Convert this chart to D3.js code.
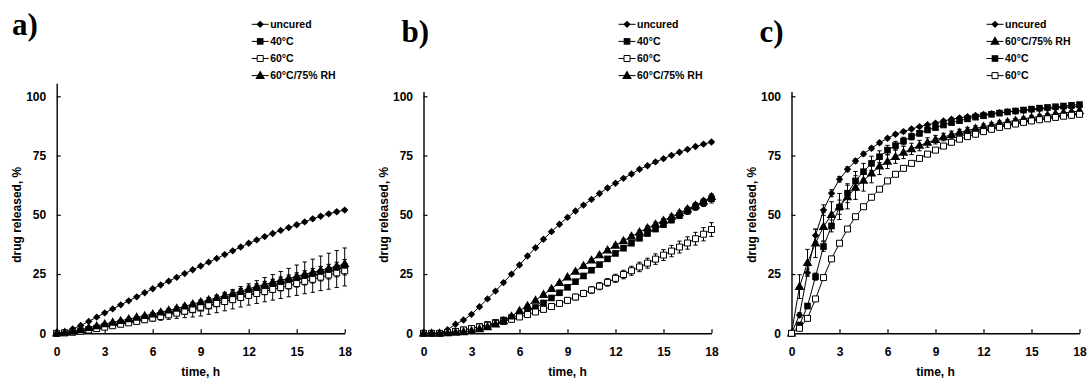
<!DOCTYPE html>
<html><head><meta charset="utf-8">
<script src="https://cdn.jsdelivr.net/npm/d3@7"></script>
<style>body{margin:0;background:#fff}svg{display:block}</style>
</head><body><svg id="c" width="1088" height="380"></svg>
<script>
// ---- data ----
const times = [0,0.5,1,1.5,2,2.5,3,3.5,4,4.5,5,5.5,6,6.5,7,7.5,8,8.5,9,9.5,10,10.5,11,11.5,12,12.5,13,13.5,14,14.5,15,15.5,16,16.5,17,17.5,18];
const xTicks = [0,3,6,9,12,15,18];
const yTicks = [0,25,50,75,100];
const panelLabels = ["a)","b)","c)"];
const xTitle = "time, h";
const yTitle = "drug released, %";

// panel a
const aUncured = [0,0.6,1.8,3.3,5.0,6.8,8.6,10.3,12.0,13.7,15.4,17.1,18.8,20.4,22.0,23.6,25.2,26.8,28.4,30.0,31.6,33.2,34.8,36.4,38.0,39.4,40.8,42.1,43.4,44.6,45.8,47.0,48.3,49.4,50.4,51.3,52.0];
const aUncuredSd = [0,0,0.1,0.1,0.1,0.1,0.2,0.2,0.2,0.2,0.2,0.3,0.3,0.3,0.3,0.3,0.3,0.4,0.4,0.4,0.4,0.4,0.4,0.5,0.5,0.5,0.5,0.5,0.5,0.5,0.6,0.6,0.6,0.6,0.6,0.6,0.6];
const a40 = [0,0.2,0.5,1.0,1.6,2.2,2.9,3.5,4.2,4.8,5.5,6.2,6.9,7.5,8.1,8.7,9.3,9.9,10.6,11.5,12.4,13.4,14.4,15.4,16.4,17.4,18.4,19.4,20.4,21.4,22.4,23.4,24.3,25.3,26.2,27.1,28.0];
const a40Sd = [0,0.1,0.2,0.3,0.4,0.5,0.7,0.8,1.0,1.2,1.4,1.6,1.8,2.0,2.2,2.4,2.7,3.0,3.3,3.5,3.7,3.9,4.1,4.3,4.5,4.8,5.1,5.4,5.7,6.0,6.4,6.7,7.0,7.3,7.6,7.8,8.0];
const a60 = [0,0.2,0.5,0.9,1.4,2.0,2.6,3.2,3.8,4.4,5.0,5.7,6.4,7.1,7.8,8.5,9.3,10.1,11.0,11.8,12.6,13.4,14.2,15.1,16.0,16.8,17.6,18.5,19.3,20.1,21.0,21.9,22.8,23.7,24.6,25.5,26.4];
const a60Sd = [0,0,0.1,0.1,0.2,0.2,0.3,0.3,0.4,0.4,0.5,0.5,0.6,0.6,0.7,0.7,0.8,0.8,0.9,0.9,1.0,1.0,1.1,1.1,1.2,1.2,1.3,1.3,1.4,1.4,1.5,1.5,1.6,1.6,1.7,1.7,1.8];
const aRH = [0,0.3,0.8,1.5,2.3,3.1,3.9,4.6,5.3,6.0,6.7,7.4,8.1,8.9,9.7,10.5,11.4,12.3,13.2,14.1,15.0,15.9,16.8,17.8,18.8,19.7,20.6,21.5,22.4,23.2,24.0,24.9,25.7,26.6,27.4,28.3,29.3];
const aRHSd = [0,0,0.1,0.1,0.2,0.2,0.3,0.3,0.4,0.4,0.5,0.5,0.6,0.6,0.7,0.7,0.8,0.8,0.9,0.9,1.0,1.0,1.1,1.1,1.2,1.2,1.3,1.3,1.4,1.4,1.5,1.5,1.6,1.6,1.7,1.7,1.8];

// panel b
const bUncured = [0,0,0,1.5,3.8,5.6,8.0,11.2,14.5,17.8,21.4,25.0,28.8,32.6,36.1,39.7,42.9,46.0,48.9,51.6,54.1,56.5,59.0,61.3,63.3,65.4,67.2,69.2,70.7,72.3,73.7,75.1,76.4,77.6,78.8,79.8,80.7];
const bUncuredSd = [0,0,0,0.2,0.3,0.3,0.4,0.4,0.4,0.5,0.5,0.5,0.5,0.5,0.5,0.5,0.5,0.5,0.5,0.5,0.5,0.5,0.5,0.5,0.5,0.5,0.5,0.5,0.5,0.5,0.5,0.5,0.5,0.5,0.5,0.5,0.5];
const b40 = [0,0,0,0.3,0.8,1.4,2.1,2.9,3.7,4.6,5.6,6.6,7.8,9.2,10.9,12.8,14.9,17.1,19.4,21.8,24.2,26.6,29.0,31.4,33.7,35.9,38.0,40.1,42.1,44.0,45.9,47.8,49.7,51.6,53.4,55.1,56.8];
const b40Sd = [0,0,0,0.1,0.1,0.2,0.2,0.2,0.3,0.3,0.3,0.4,0.4,0.4,0.5,0.5,0.5,0.6,0.6,0.6,0.7,0.7,0.7,0.8,0.8,0.9,0.9,1.0,1.0,1.1,1.1,1.2,1.3,1.4,1.5,1.6,1.8];
const b60 = [0,0,0,0.3,0.8,1.4,2.0,2.7,3.4,4.2,5.0,5.9,6.9,7.9,9.0,10.1,11.3,12.6,13.9,15.3,16.8,18.3,19.9,21.5,23.2,24.8,26.4,28.0,29.6,31.3,33.0,34.7,36.4,38.1,39.9,41.8,43.8];
const b60Sd = [0,0,0,0.1,0.2,0.3,0.4,0.4,0.5,0.5,0.6,0.6,0.7,0.7,0.8,0.8,0.9,1.0,1.1,1.2,1.3,1.4,1.5,1.6,1.7,1.8,1.9,2.0,2.1,2.2,2.3,2.4,2.5,2.6,2.7,2.8,2.9];
const bRH = [0,0,0,0.1,0.3,0.6,1.1,1.8,2.7,3.8,5.2,7.2,9.5,11.6,13.9,16.3,18.8,21.3,23.7,26.1,28.5,30.8,33.0,35.1,37.1,39.0,40.9,42.7,44.4,46.0,47.6,49.2,50.8,52.4,54.0,55.7,57.6];
const bRHSd = [0,0,0,0,0.1,0.1,0.1,0.2,0.2,0.2,0.3,0.3,0.3,0.4,0.4,0.4,0.5,0.5,0.5,0.6,0.6,0.6,0.7,0.7,0.7,0.8,0.8,0.8,0.9,0.9,0.9,1.0,1.0,1.0,1.1,1.1,1.2];

// panel c
const cUncured = [0,7.7,25.6,41.3,52.0,59.1,65.0,69.2,72.7,75.7,78.1,80.4,82.3,84.0,85.1,86.2,87.2,88.0,88.7,89.6,90.3,90.9,91.4,91.9,92.3,92.7,93.1,93.4,93.7,94.0,94.3,94.6,94.8,95.1,95.3,95.5,95.7];
const cUncuredSd = [0,1.0,1.5,2.6,2.2,1.5,1.2,1.0,0.9,0.8,0.7,0.7,0.6,0.6,0.6,0.5,0.5,0.5,0.5,0.5,0.5,0.5,0.5,0.5,0.5,0.5,0.5,0.5,0.5,0.5,0.5,0.5,0.5,0.5,0.5,0.5,0.5];
const cRH = [0,19.7,29.8,38.0,45.0,50.0,53.5,57.5,61.5,64.5,67.5,70.5,72.5,74.5,76.3,77.8,79.2,80.5,81.7,82.8,83.8,84.7,85.6,86.4,87.2,87.9,88.6,89.2,89.8,90.4,91.0,91.5,92.0,92.5,93.0,93.4,93.8];
const cRHSd = [0,5.0,5.6,6.0,6.0,5.5,5.5,5.0,5.0,4.5,4.0,3.5,3.0,2.8,2.6,2.4,2.2,2.0,1.8,1.6,1.5,1.4,1.3,1.2,1.1,1.0,1.0,0.9,0.9,0.8,0.8,0.8,0.7,0.7,0.7,0.6,0.6];
const c40 = [0,3.5,11.5,23.9,36.6,45.3,53.2,59.1,64.3,68.2,71.7,74.5,77.3,79.2,81.1,83.0,84.4,85.8,86.8,87.9,88.9,89.7,90.5,91.2,91.8,92.4,92.9,93.4,93.8,94.2,94.6,95.0,95.3,95.6,95.9,96.2,96.5];
const c40Sd = [0,0.5,1.0,1.5,2.0,2.5,3.0,4.0,4.0,3.5,3.0,2.5,2.0,1.8,1.6,1.4,1.2,1.0,1.0,0.9,0.9,0.8,0.8,0.8,0.7,0.7,0.7,0.6,0.6,0.6,0.6,0.5,0.5,0.5,0.5,0.5,0.5];
const c60 = [0,2.1,6.3,14.5,23.5,31.4,38.0,44.0,49.2,53.4,57.4,60.8,64.3,67.1,69.6,71.7,73.8,75.6,77.3,79.0,80.6,81.9,83.0,84.0,85.1,86.1,86.9,87.6,88.3,89.0,89.6,90.1,90.5,91.1,91.6,92.0,92.4];
const c60Sd = [0,0.3,0.5,0.6,0.7,0.7,0.7,0.7,0.7,0.6,0.6,0.6,0.6,0.6,0.5,0.5,0.5,0.5,0.5,0.5,0.5,0.5,0.5,0.5,0.5,0.5,0.5,0.5,0.5,0.5,0.5,0.5,0.5,0.5,0.5,0.5,0.5];

// ---- drawing ----
const svg = d3.select("#c");
const FONT = "'Liberation Sans', Arial, sans-serif";
const M = {diamond:"diamond", fsq:"fsq", osq:"osq", tri:"tri"};

const panels = [
  {label: panelLabels[0], lx: 12, ly: 34.5, x0: 56.7, ymax: 105.5,
   series: [
     {name:"uncured", v:aUncured, sd:aUncuredSd, m:M.diamond},
     {name:"40°C", v:a40, sd:a40Sd, m:M.fsq},
     {name:"60°C", v:a60, sd:a60Sd, m:M.osq},
     {name:"60°C/75% RH", v:aRH, sd:aRHSd, m:M.tri}]},
  {label: panelLabels[1], lx: 401.5, ly: 42.3, x0: 423.5, ymax: 102,
   series: [
     {name:"uncured", v:bUncured, sd:bUncuredSd, m:M.diamond},
     {name:"40°C", v:b40, sd:b40Sd, m:M.fsq},
     {name:"60°C", v:b60, sd:b60Sd, m:M.osq},
     {name:"60°C/75% RH", v:bRH, sd:bRHSd, m:M.tri}]},
  {label: panelLabels[2], lx: 759.5, ly: 41.7, x0: 791.5, ymax: 102,
   series: [
     {name:"uncured", v:cUncured, sd:cUncuredSd, m:M.diamond},
     {name:"60°C/75% RH", v:cRH, sd:cRHSd, m:M.tri},
     {name:"40°C", v:c40, sd:c40Sd, m:M.fsq},
     {name:"60°C", v:c60, sd:c60Sd, m:M.osq}]}
];

function drawMarker(g, kind, x, y) {
  if (kind === "diamond") {
    g.append("path").attr("d", d3.symbol(d3.symbolSquare, 27)())
      .attr("transform", `translate(${x},${y}) rotate(45)`).attr("fill","#000");
  } else if (kind === "fsq") {
    g.append("path").attr("d", d3.symbol(d3.symbolSquare, 44)())
      .attr("transform", `translate(${x},${y})`).attr("fill","#000");
  } else if (kind === "osq") {
    g.append("path").attr("d", d3.symbol(d3.symbolSquare, 36)())
      .attr("transform", `translate(${x},${y})`).attr("fill","#fff")
      .attr("stroke","#000").attr("stroke-width",1);
  } else {
    g.append("path").attr("d", d3.symbol(d3.symbolTriangle, 40)())
      .attr("transform", `translate(${x},${y+0.5})`).attr("fill","#000");
  }
}

const Y0 = 333.3, Y100 = 96.3, PW = 288;

panels.forEach(p => {
  const x = d3.scaleLinear().domain([0,18]).range([p.x0, p.x0 + PW]);
  const pxPerUnit = (Y0 - Y100) / 100;
  const y = d3.scaleLinear().domain([0, p.ymax]).range([Y0, Y0 - p.ymax * pxPerUnit]);
  const g = svg.append("g");

  // axes
  const xa = g.append("g").attr("transform", `translate(0,${Y0})`)
    .call(d3.axisBottom(x).tickValues(xTicks).tickSize(-4).tickSizeOuter(0).tickPadding(14.5));
  const ya = g.append("g").attr("transform", `translate(${p.x0},0)`)
    .call(d3.axisLeft(y).tickValues(yTicks).tickSize(-4).tickSizeOuter(0).tickPadding(10.5));
  [xa, ya].forEach(a => {
    a.select(".domain").attr("stroke","#000").attr("stroke-width",1.4);
    a.selectAll(".tick line").attr("stroke","#000").attr("stroke-width",1.2);
    a.selectAll(".tick text").attr("fill","#000").style("font-family",FONT)
      .style("font-size","12px").style("font-weight","bold");
  });

  // titles
  g.append("text").attr("x", p.x0 + PW/2).attr("y", 376)
    .attr("text-anchor","middle").style("font-family",FONT).style("font-size","12px")
    .style("font-weight","bold").text(xTitle);
  g.append("text").attr("transform", `translate(${p.x0 - 40},${(Y0+Y100)/2}) rotate(-90)`)
    .attr("text-anchor","middle").attr("dy","0.35em").style("font-family",FONT).style("font-size","12px")
    .style("font-weight","bold").text(yTitle);
  g.append("text").attr("x", p.lx).attr("y", p.ly)
    .style("font-family","'Liberation Serif','Times New Roman',serif").style("font-size","31px")
    .style("font-weight","bold").text(p.label);

  // series
  const line = d3.line().x((d,i)=>x(times[i])).y(d=>y(d));
  p.series.forEach(s => {
    const sg = g.append("g");
    // error bars
    s.v.forEach((v,i) => {
      const e = s.sd[i];
      if (!e) return;
      const cx = x(times[i]);
      const top = y(v + e), bot = y(Math.max(0, v - e));
      sg.append("line").attr("x1",cx).attr("x2",cx).attr("y1",top).attr("y2",bot)
        .attr("stroke","#000").attr("stroke-width",1);
      sg.append("line").attr("x1",cx-2.2).attr("x2",cx+2.2).attr("y1",top).attr("y2",top)
        .attr("stroke","#000").attr("stroke-width",1);
      if (v - e > 0)
        sg.append("line").attr("x1",cx-2.2).attr("x2",cx+2.2).attr("y1",bot).attr("y2",bot)
          .attr("stroke","#000").attr("stroke-width",1);
    });
    sg.append("path").datum(s.v).attr("d", line).attr("fill","none")
      .attr("stroke","#000").attr("stroke-width",1);
    s.v.forEach((v,i) => drawMarker(sg, s.m, x(times[i]), y(v)));
  });

  // legend
  const lg = g.append("g");
  p.series.forEach((s,i) => {
    const ly = 24.3 + i * 17.1;
    lg.append("line").attr("x1", p.x0 + 195).attr("x2", p.x0 + 212)
      .attr("y1", ly).attr("y2", ly).attr("stroke","#000").attr("stroke-width",1);
    drawMarker(lg, s.m, p.x0 + 203.5, ly);
    lg.append("text").attr("x", p.x0 + 213.5).attr("y", ly).attr("dy","0.36em")
      .style("font-family",FONT).style("font-size","10.5px").style("font-weight","bold")
      .text(s.name);
  });
});
</script>
</body></html>
